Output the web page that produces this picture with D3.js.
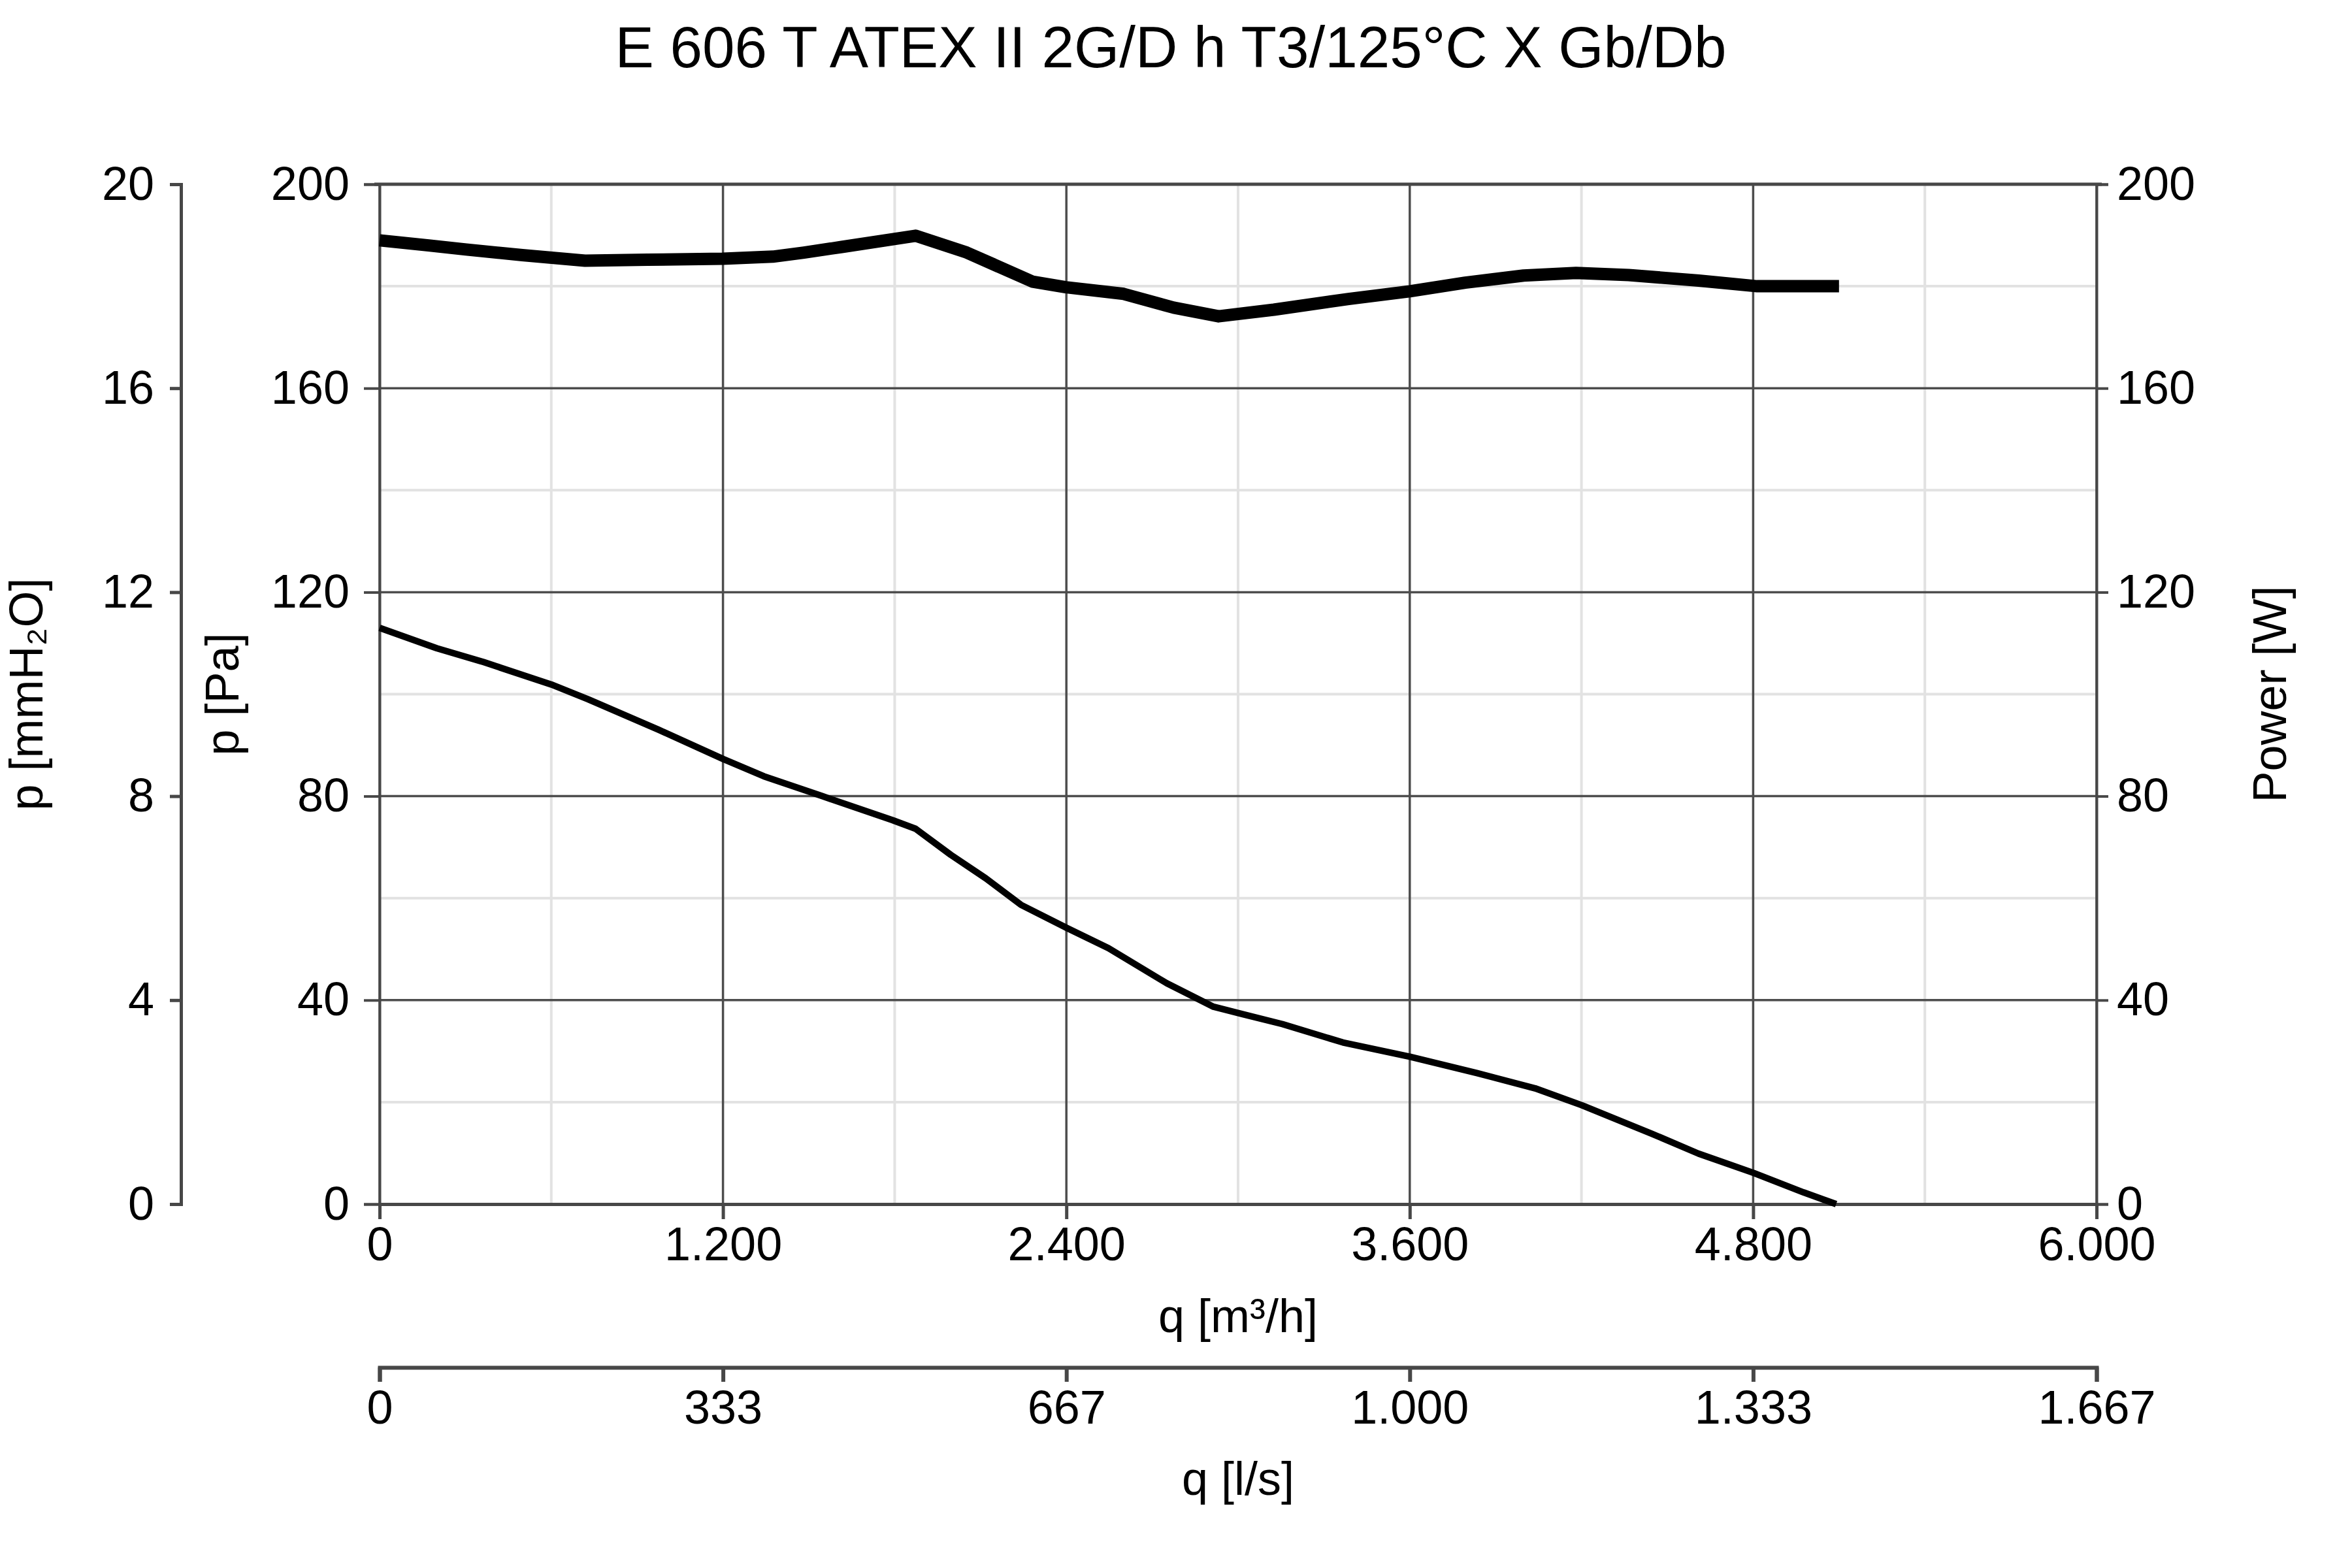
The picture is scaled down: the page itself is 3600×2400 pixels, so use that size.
<!DOCTYPE html>
<html>
<head>
<meta charset="utf-8">
<script src="https://d3js.org/d3.v7.min.js"></script>
<style>
  body { margin: 0; background: #fff; }
  text { font-family: "Liberation Sans", Arial, sans-serif; fill: #000; }
</style>
</head>
<body>
<svg id="MAINSVG" width="3600" height="2400"></svg>
<script>
// fan curve, q in m3/h
var pressureQ  = [0, 200, 363, 600, 729, 976, 1200, 1343, 1547, 1792, 1873, 1996, 2118, 2241, 2400,
                  2547, 2751, 2914, 3019, 3155, 3366, 3600, 3834, 4038, 4201, 4446, 4609, 4802, 4976, 5090];
var pressurePa = [113.0, 109.0, 106.3, 101.9, 99.0, 93.0, 87.3, 83.9, 80.0, 75.3, 73.6, 68.5, 63.9, 58.7, 54.2,
                  50.2, 43.3, 38.7, 37.2, 35.3, 31.7, 28.9, 25.7, 22.7, 19.4, 13.8, 9.9, 6.1, 2.3, 0];

var powerQ = [0, 171, 302, 499, 718, 936, 1199, 1374, 1483, 1615, 1873, 2052, 2282, 2398,
              2600, 2775, 2932, 3125, 3386, 3600, 3794, 3998, 4181, 4365, 4610, 4814, 5100];
var powerW = [189.0, 188.0, 187.2, 186.1, 185.0, 185.2, 185.4, 185.8, 186.6, 187.7, 189.9, 186.6, 180.9, 179.8,
              178.5, 175.8, 174.1, 175.4, 177.5, 179.0, 180.7, 182.1, 182.6, 182.2, 181.1, 180.0, 180.0];

var xTicks      = [0, 1200, 2400, 3600, 4800, 6000];
var xMinorTicks = [600, 1800, 3000, 4200, 5400];
var yTicksPa    = [0, 40, 80, 120, 160, 200];
var yMinorPa    = [20, 60, 100, 140, 180];
var yTicksMm    = [0, 4, 8, 12, 16, 20];
var yTicksW     = [0, 40, 80, 120, 160, 200];

var chartTitle = "E 606 T ATEX II 2G/D h T3/125°C X Gb/Db";

var SVG = d3.select("#MAINSVG");

var plotLeft = 581, plotRight = 3209, plotTop = 282, plotBottom = 1843;
var axisColor = "#474747";

var x  = d3.scaleLinear().domain([0, 6000]).range([plotLeft, plotRight]);
var xl = d3.scaleLinear().domain([0, 6000 / 3.6]).range([plotLeft, plotRight]);
var yPa = d3.scaleLinear().domain([0, 200]).range([plotBottom, plotTop]);
var yMm = d3.scaleLinear().domain([0, 20]).range([plotBottom, plotTop]);
var yW  = d3.scaleLinear().domain([0, 200]).range([plotBottom, plotTop]);

var fmt = d3.formatLocale({decimal: ",", thousands: ".", grouping: [3], currency: ["", "€"]}).format(",.0f");

// minor grid
SVG.append("g").selectAll("line").data(xMinorTicks).enter().append("line")
   .attr("x1", function(d){ return x(d); }).attr("x2", function(d){ return x(d); })
   .attr("y1", plotTop).attr("y2", plotBottom)
   .attr("stroke", "#e2e2e2").attr("stroke-width", 4);
SVG.append("g").selectAll("line").data(yMinorPa).enter().append("line")
   .attr("x1", plotLeft).attr("x2", plotRight)
   .attr("y1", function(d){ return yPa(d); }).attr("y2", function(d){ return yPa(d); })
   .attr("stroke", "#e2e2e2").attr("stroke-width", 4);

// major grid
SVG.append("g").selectAll("line").data(xTicks).enter().append("line")
   .attr("x1", function(d){ return x(d); }).attr("x2", function(d){ return x(d); })
   .attr("y1", plotTop).attr("y2", plotBottom)
   .attr("stroke", "#4d4d4d").attr("stroke-width", 3.5);
SVG.append("g").selectAll("line").data(yTicksPa).enter().append("line")
   .attr("x1", plotLeft).attr("x2", plotRight)
   .attr("y1", function(d){ return yPa(d); }).attr("y2", function(d){ return yPa(d); })
   .attr("stroke", "#4d4d4d").attr("stroke-width", 3.5);

function styleAxis(g, width) {
  g.selectAll("path").attr("stroke", axisColor).attr("stroke-width", width);
  g.selectAll("line").attr("stroke", axisColor).attr("stroke-width", width);
  g.selectAll("text").attr("font-size", 72).attr("fill", "#000")
   .attr("font-family", "'Liberation Sans', Arial, sans-serif");
}

// axes
var gMm = SVG.append("g").attr("transform", "translate(277,0)")
   .call(d3.axisLeft(yMm).tickValues(yTicksMm).tickSize(17).tickPadding(24));
styleAxis(gMm, 5);

var gPa = SVG.append("g").attr("transform", "translate(" + plotLeft + ",0)")
   .call(d3.axisLeft(yPa).tickValues(yTicksPa).tickSize(24).tickSizeOuter(24).tickPadding(22));
styleAxis(gPa, 4);

var gW = SVG.append("g").attr("transform", "translate(" + plotRight + ",0)")
   .call(d3.axisRight(yW).tickValues(yTicksW).tickSize(18).tickSizeOuter(18).tickPadding(13));
styleAxis(gW, 4);

var gX = SVG.append("g").attr("transform", "translate(0," + plotBottom + ")")
   .call(d3.axisBottom(x).tickValues(xTicks).tickFormat(fmt).tickSize(23).tickSizeOuter(0).tickPadding(18));
styleAxis(gX, 5);
gX.selectAll("text").attr("dy", null).attr("y", 86);

var gL = SVG.append("g").attr("transform", "translate(0,2093)")
   .call(d3.axisBottom(xl).tickValues(xTicks.map(function(v){ return v / 3.6; })).tickFormat(fmt)
         .tickSize(22).tickPadding(18));
styleAxis(gL, 6);
gL.selectAll("text").attr("dy", null).attr("y", 86);

// top border
SVG.append("line").attr("x1", plotLeft - 8).attr("x2", plotRight + 8).attr("y1", plotTop).attr("y2", plotTop)
   .attr("stroke", axisColor).attr("stroke-width", 5);

// curves
var linePa = d3.line()
   .x(function(d){ return x(d[0]); })
   .y(function(d){ return yPa(d[1]); });
var lineW = d3.line()
   .x(function(d){ return x(d[0]); })
   .y(function(d){ return yW(d[1]); });

SVG.append("path").datum(d3.zip(pressureQ, pressurePa))
   .attr("d", linePa).attr("fill", "none").attr("stroke", "#000")
   .attr("stroke-width", 10).attr("stroke-linejoin", "round");

SVG.append("path").datum(d3.zip(powerQ, powerW))
   .attr("d", lineW).attr("fill", "none").attr("stroke", "#000")
   .attr("stroke-width", 19).attr("stroke-linejoin", "round").attr("stroke-linecap", "butt");

// titles
SVG.append("text").attr("x", 1792).attr("y", 103).attr("text-anchor", "middle")
   .attr("font-size", 89).text(chartTitle);

SVG.append("text").attr("x", (plotLeft + plotRight) / 2).attr("y", 2039).attr("text-anchor", "middle")
   .attr("font-size", 72).text("q [m³/h]");
SVG.append("text").attr("x", (plotLeft + plotRight) / 2).attr("y", 2288).attr("text-anchor", "middle")
   .attr("font-size", 72).text("q [l/s]");

var midY = (plotTop + plotBottom) / 2;
SVG.append("text").attr("transform", "translate(65," + midY + ") rotate(-90)")
   .attr("text-anchor", "middle").attr("font-size", 72).text("p [mmH₂O]");
SVG.append("text").attr("transform", "translate(365," + midY + ") rotate(-90)")
   .attr("text-anchor", "middle").attr("font-size", 72).text("p [Pa]");
SVG.append("text").attr("transform", "translate(3499," + midY + ") rotate(-90)")
   .attr("text-anchor", "middle").attr("font-size", 72).text("Power [W]");
</script>
</body>
</html>
